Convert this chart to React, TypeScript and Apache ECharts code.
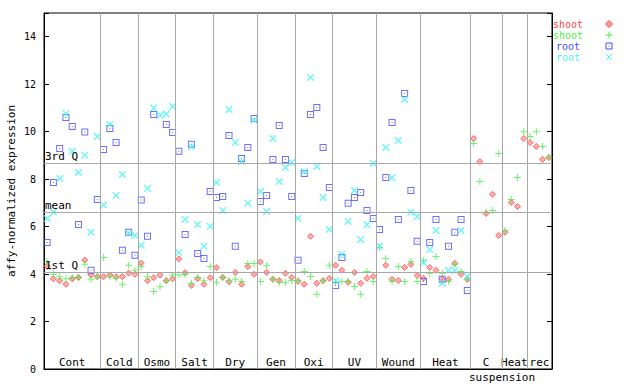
import React, { useEffect, useRef } from 'react';
import * as echarts from 'echarts';

const groupNames = ['Cont', 'Cold', 'Osmo', 'Salt', 'Dry', 'Gen', 'Oxi', 'UV', 'Wound', 'Heat', 'C', 'Heat', 'rec'];
const groupSizes = [9, 6, 6, 6, 7, 6, 6, 7, 7, 8, 5, 4, 4];

const shootRed: (number | null)[] = [
  4.33, 3.80, 3.72, 3.57, 3.80, 3.86, 4.59, 3.96, 3.89,
  3.89, 3.96, 3.89, 3.89, 4.04, 3.99,
  4.46, 3.72, 3.85, 3.96, 3.72, 3.80,
  4.64, 4.06, 3.52, 3.80, 3.57, 3.85,
  4.27, 3.86, 3.68, 4.07, 3.57, 4.32, 3.99,
  4.51, 4.07, 3.78, 3.73, 4.03, 3.86,
  3.69, 3.57, 5.59, 3.61, 3.72, 3.82,
  4.37, 4.16, 3.65, 4.07, 3.61, 3.82, 3.90,
  null, 4.37, 3.78, 3.73, 4.28, 4.41, 3.94,
  3.82, 4.28, 4.16, 3.78, 3.78, 4.45, 3.99, 3.78,
  9.71, 8.74, 6.55, 7.36, 5.63,
  5.76, 7.02, 6.85, 9.71,
  9.54, 9.38, 8.83, 8.91,
];
const shootGreen: (number | null)[] = [
  4.51, 3.99, 3.89, 3.80, 3.85, 3.86, 4.41, 3.78, 3.89,
  4.70, 3.89, 3.82, 3.57, 4.37, 4.16,
  4.32, 3.89, 3.27, 3.47, 3.72, 3.96,
  3.96, 3.99, 3.61, 3.86, 3.72, 4.32,
  3.65, 3.86, 3.73, 3.78, 3.69, 4.45, 4.45,
  3.69, 4.37, 3.78, 3.65, 3.65, 3.73,
  3.73, 4.11, 3.90, 3.15, 3.73, 4.37,
  3.65, 3.69, 3.69, 3.48, 3.15, 4.11, 3.69,
  5.12, 4.66, 3.69, 4.32, 3.69, 4.53, 3.69,
  4.58, 4.03, 4.74, 4.03, 3.69, 4.41, 4.11, 3.78,
  9.50, 7.90, 6.60, 6.68, 9.08,
  5.84, 7.14, 8.07, 10.0,
  9.80, 10.0, 9.38, 8.91,
];
const rootBlue: (number | null)[] = [
  5.33, 7.86, 9.29, 10.6, 10.22, 6.09, 9.99, 4.16, 7.14,
  9.25, 10.13, 9.54, 5.0, 5.76, 4.79,
  7.12, 5.59, 10.72, null, 10.30, 9.96,
  9.17, 5.67, 9.47, 4.87, 4.66, 7.48,
  7.23, 7.27, 9.84, 5.17, 8.87, 9.33, 10.55,
  7.06, 7.31, 8.83, 10.26, 8.83, 7.27,
  4.58, 8.24, 10.72, 11.02, 9.33, 7.65,
  3.52, 4.70, 6.98, 7.23, 7.44, 6.68, 6.34,
  5.88, 8.07, 10.39, 6.30, 11.61, 7.52, 5.38,
  3.69, 5.33, 6.30, 3.78, 5.17, 5.76, 6.30, 3.31,
];
const rootCyan: (number | null)[] = [
  6.34, 6.62, 8.03, 10.76, 9.17, 8.28, 9.01, 5.76, 9.80,
  6.91, 10.30, 7.31, 8.2, 5.71, 5.63,
  5.21, 7.61, 11.0, 10.69, 10.74, 11.06,
  4.91, 6.30, 9.36, 6.09, 5.17, 6.01,
  7.86, 6.68, 10.93, 9.54, 8.74, 6.98, 10.48,
  7.48, 6.64, 9.71, 7.90, 8.49, 8.70,
  6.34, 8.32, 12.28, 8.53, 7.23, 5.88,
  3.72, 4.83, 6.22, 7.52, 5.46, 6.09, 8.66,
  5.17, 9.33, 8.07, 9.63, 11.36, 6.60, 6.43,
  4.49, 5.04, 5.84, 3.61, 4.16, 4.16, 5.84, 3.90,
];

const refLabels = ['1st Q', 'mean', '3rd Q'];
const refValues = [4.07, 6.60, 8.66];

const yMin = 0;
const yMax = 15;
const yInterval = 2;

const FONT = 'DejaVu Sans Mono';
const RED = '#ff4a4a';
const GREEN = '#48f048';
const BLUE = '#4a4aff';
const CYAN = '#48f4f4';

const SYM_PLUS = 'path://M3,0H4V3H7V4H4V7H3V4H0V3H3Z';
const SYM_SQUARE = 'path://M0,0H7V7H0Z M1,1V6H6V1Z M3,3H4V4H3Z';
const SYM_X = 'path://M0,0L1,0L3.5,2.5L6,0L7,0L7,1L4.5,3.5L7,6L7,7L6,7L3.5,4.5L1,7L0,7L0,6L2.5,3.5L0,1Z';

function toPoints(vals: (number | null)[]) {
  const out: [number, number][] = [];
  vals.forEach((v, i) => {
    if (v !== null) out.push([i + 0.5, v]);
  });
  return out;
}

export default function App() {
  const ref = useRef<HTMLDivElement>(null);
  useEffect(() => {
    document.body.style.margin = '0';
    const chart = echarts.init(ref.current!, undefined, { renderer: 'svg' });
    const total = groupSizes.reduce((a, b) => a + b, 0);
    const bounds: number[] = [];
    let acc = 0;
    groupSizes.forEach((s) => {
      bounds.push(acc);
      acc += s;
    });
    const areaData = groupNames.map((n, k) => [
      { name: n, xAxis: bounds[k], yAxis: yMin },
      { xAxis: bounds[k] + groupSizes[k], yAxis: yMax },
    ]);
    const vLines = bounds.slice(1).map((b) => ({ xAxis: b, label: { show: false } }));
    const hLines = refValues.map((v, k) => ({
      yAxis: v,
      name: refLabels[k],
      label: {
        show: true,
        position: 'insideStartTop',
        formatter: refLabels[k],
        color: '#000',
        fontFamily: FONT,
        fontSize: 11,
        distance: [1, 1],
      },
    }));

    const legendRows = [
      { text: 'shoot', color: RED },
      { text: 'shoot', color: GREEN },
      { text: 'root', color: BLUE },
      { text: 'root', color: CYAN },
    ];
    const lx = 609;
    const ly = [24, 35, 46, 57];
    const graphic: any[] = legendRows.map((r, k) => ({
      type: 'text',
      x: 568,
      y: ly[k],
      style: {
        text: r.text,
        fill: r.color,
        font: `10px "${FONT}"`,
        align: 'center',
        verticalAlign: 'middle',
      },
    }));
    graphic.push({
      type: 'polygon',
      shape: { points: [[lx, ly[0] - 3.5], [lx + 3.5, ly[0]], [lx, ly[0] + 3.5], [lx - 3.5, ly[0]]] },
      style: { fill: '#ff9a9a', stroke: RED, lineWidth: 1 },
    });
    graphic.push({ type: 'line', shape: { x1: lx - 3.5, y1: ly[1], x2: lx + 3.5, y2: ly[1] }, style: { stroke: GREEN, lineWidth: 1 } });
    graphic.push({ type: 'line', shape: { x1: lx, y1: ly[1] - 3.5, x2: lx, y2: ly[1] + 3.5 }, style: { stroke: GREEN, lineWidth: 1 } });
    graphic.push({ type: 'rect', shape: { x: lx - 3, y: ly[2] - 3, width: 6, height: 6 }, style: { fill: 'none', stroke: BLUE, lineWidth: 1 } });
    graphic.push({ type: 'rect', shape: { x: lx - 0.5, y: ly[2] - 0.5, width: 1, height: 1 }, style: { fill: BLUE } });
    graphic.push({ type: 'line', shape: { x1: lx - 3, y1: ly[3] - 3, x2: lx + 3, y2: ly[3] + 3 }, style: { stroke: CYAN, lineWidth: 1 } });
    graphic.push({ type: 'line', shape: { x1: lx - 3, y1: ly[3] + 3, x2: lx + 3, y2: ly[3] - 3 }, style: { stroke: CYAN, lineWidth: 1 } });
    graphic.push({
      type: 'text',
      x: 502,
      y: 377,
      style: { text: 'suspension', fill: '#000', font: `11px "${FONT}"`, align: 'center', verticalAlign: 'middle' },
    });

    const common = { type: 'scatter', z: 3, symbolSize: 7 };

    chart.setOption({
      animation: false,
      backgroundColor: '#fff',
      grid: {
        left: 44,
        right: 88,
        top: 13,
        bottom: 15,
        containLabel: false,
        outerBoundsMode: 'none',
        show: true,
        borderColor: '#000',
        borderWidth: 1,
        backgroundColor: 'transparent',
      },
      xAxis: {
        type: 'value',
        min: 0,
        max: total,
        axisLine: { show: true, lineStyle: { color: '#000', width: 1 } },
        axisTick: { show: false },
        axisLabel: { show: false },
        splitLine: { show: false },
      },
      yAxis: [
        {
          type: 'value',
          min: yMin,
          max: yMax,
          interval: yInterval,
          name: 'affy-normalized expression',
          nameLocation: 'middle',
          nameGap: 27,
          nameMoveOverlap: false,
          nameRotate: 90,
          nameTextStyle: { color: '#000', fontFamily: FONT, fontSize: 11 },
          axisLine: { show: true, lineStyle: { color: '#000', width: 1 } },
          axisTick: { show: true, inside: true, length: 5, lineStyle: { color: '#000' } },
          axisLabel: {
            color: '#000',
            fontFamily: FONT,
            fontSize: 10,
            margin: 8,
            formatter: (v: number) => (v === yMax ? '' : String(v)),
          },
          splitLine: { show: false },
        },
        {
          type: 'value',
          position: 'right',
          min: yMin,
          max: yMax,
          interval: yInterval,
          axisLine: { show: true, lineStyle: { color: '#000', width: 1 } },
          axisTick: { show: true, inside: true, length: 5, lineStyle: { color: '#000' } },
          axisLabel: { show: false },
          splitLine: { show: false },
        },
      ],
      graphic,
      series: [
        {
          type: 'scatter',
          z: 1,
          data: [],
          markLine: {
            silent: true,
            symbol: ['none', 'none'],
            lineStyle: { color: '#a8a8a8', width: 1, type: 'solid' },
            emphasis: { disabled: true },
            data: [...vLines, ...hLines],
          },
          markArea: {
            silent: true,
            itemStyle: { color: 'rgba(0,0,0,0)' },
            label: {
              show: true,
              position: 'insideBottom',
              distance: 1,
              color: '#000',
              fontFamily: FONT,
              fontSize: 11,
            },
            data: areaData,
          },
        },
        {
          ...common,
          name: 'shoot',
          symbol: 'diamond',
          symbolSize: 6,
          itemStyle: { color: '#ff9a9a', borderColor: RED, borderWidth: 1 },
          data: toPoints(shootRed),
        },
        {
          ...common,
          name: 'shoot ',
          symbol: SYM_PLUS,
          itemStyle: { color: GREEN },
          data: toPoints(shootGreen),
        },
        {
          ...common,
          name: 'root',
          symbol: SYM_SQUARE,
          itemStyle: { color: BLUE },
          data: toPoints(rootBlue),
        },
        {
          ...common,
          name: 'root ',
          symbol: SYM_X,
          itemStyle: { color: CYAN },
          data: toPoints(rootCyan),
        },
      ],
    });
    return () => chart.dispose();
  }, []);
  return <div ref={ref} style={{ position: 'fixed', left: 0, top: 0, width: 640, height: 384 }} />;
}
